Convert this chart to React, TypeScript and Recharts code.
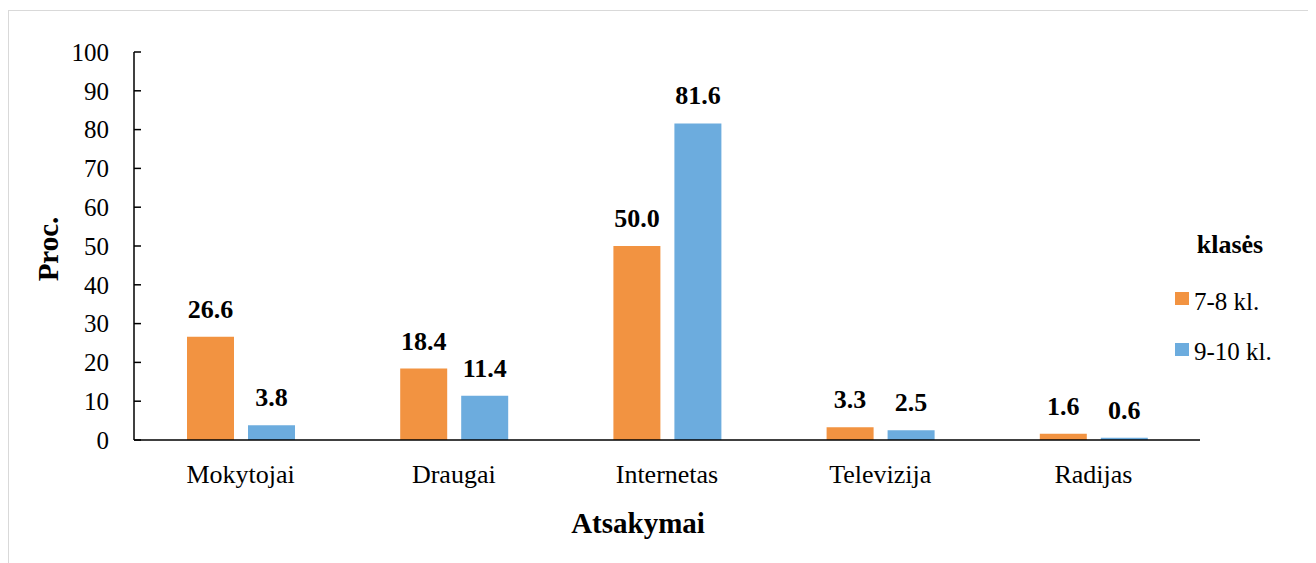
import { BarChart, Bar, XAxis, YAxis, LabelList, Label } from 'recharts'

const categories = ['Mokytojai', 'Draugai', 'Internetas', 'Televizija', 'Radijas']
const grade78 = [26.6, 18.4, 50.0, 3.3, 1.6]
const grade910 = [3.8, 11.4, 81.6, 2.5, 0.6]
const yTicks = [0, 10, 20, 30, 40, 50, 60, 70, 80, 90, 100]

const seriesNames = ['7-8 kl.', '9-10 kl.']
const legendTitle = 'klasės'

const ORANGE = '#F29341'
const BLUE = '#6CACDE'
const FONT = '"Liberation Serif", "Times New Roman", serif'

const data = categories.map((name, i) => ({
  name,
  a: grade78[i],
  b: grade910[i],
}))

function LegendBox() {
  const colors = [ORANGE, BLUE]
  return (
    <svg width={150} height={150} style={{ position: 'absolute', left: 1155, top: 210 }}>
      <text x={66} y={32} textAnchor="middle" fontFamily={FONT} fontSize={26} fontWeight="bold" fill="#000">
        {legendTitle}
      </text>
      {seriesNames.map((name, i) => (
        <g key={name}>
          <rect x={11} y={71 + i * 51} width={14} height={13} fill={colors[i]} />
          <text x={30} y={89 + i * 50} fontFamily={FONT} fontSize={25} fill="#000">
            {name}
          </text>
        </g>
      ))}
    </svg>
  )
}

export default function App() {
  const labelStyle = { fontFamily: FONT, fontSize: 26, fontWeight: 'bold' as const, fill: '#000' }
  return (
    <div
      style={{
        position: 'relative',
        marginTop: 2,
        width: 1302,
        height: 560,
        border: '1px solid #d9d9d9',
        borderBottom: 'none',
        background: '#fff',
      }}
    >
      <BarChart
        width={1302}
        height={549}
        data={data}
        margin={{ top: 41, right: 111, bottom: 10, left: 0 }}
        barSize={47}
        barGap={14}
      >
        <XAxis
          dataKey="name"
          height={110}
          axisLine={{ stroke: '#000', strokeWidth: 1.5 }}
          tickLine={false}
          tickSize={0}
          tickMargin={25}
          tick={{ fontFamily: FONT, fontSize: 26, fill: '#000' }}
          interval={0}
        >
          <Label
            content={(p: any) => {
              const vb = p.viewBox || { x: 0, y: 0, width: 0, height: 0 }
              return (
                <text
                  x={vb.x + vb.width / 2 - 29}
                  y={vb.y + vb.height - 17}
                  textAnchor="middle"
                  fontFamily={FONT}
                  fontSize={29}
                  fontWeight="bold"
                  fill="#000"
                >
                  Atsakymai
                </text>
              )
            }}
          />
        </XAxis>
        <YAxis
          width={125}
          domain={[0, 100]}
          ticks={yTicks}
          interval={0}
          axisLine={{ stroke: '#000', strokeWidth: 1.5 }}
          tickLine={{ stroke: '#000', strokeWidth: 1.5 }}
          tickSize={-7}
          tickMargin={32}
          tick={{ fontFamily: FONT, fontSize: 25, fill: '#000' }}
        >
          <Label
            content={(p: any) => {
              const vb = p.viewBox || { x: 0, y: 0, height: 0 }
              const cx = vb.x + 39
              const cy = vb.y + vb.height / 2 + 3
              return (
                <text
                  x={cx}
                  y={cy}
                  transform={`rotate(-90 ${cx} ${cy})`}
                  textAnchor="middle"
                  dominantBaseline="central"
                  fontFamily={FONT}
                  fontSize={29}
                  fontWeight="bold"
                  fill="#000"
                >
                  Proc.
                </text>
              )
            }}
          />
        </YAxis>
        <Bar dataKey="a" name={seriesNames[0]} fill={ORANGE} isAnimationActive={false}>
          <LabelList
            dataKey="a"
            position="top"
            offset={19}
            formatter={(v: any) => Number(v).toFixed(1)}
            style={labelStyle}
          />
        </Bar>
        <Bar dataKey="b" name={seriesNames[1]} fill={BLUE} isAnimationActive={false}>
          <LabelList
            dataKey="b"
            position="top"
            offset={19}
            formatter={(v: any) => Number(v).toFixed(1)}
            style={labelStyle}
          />
        </Bar>
      </BarChart>
      <LegendBox />
    </div>
  )
}
